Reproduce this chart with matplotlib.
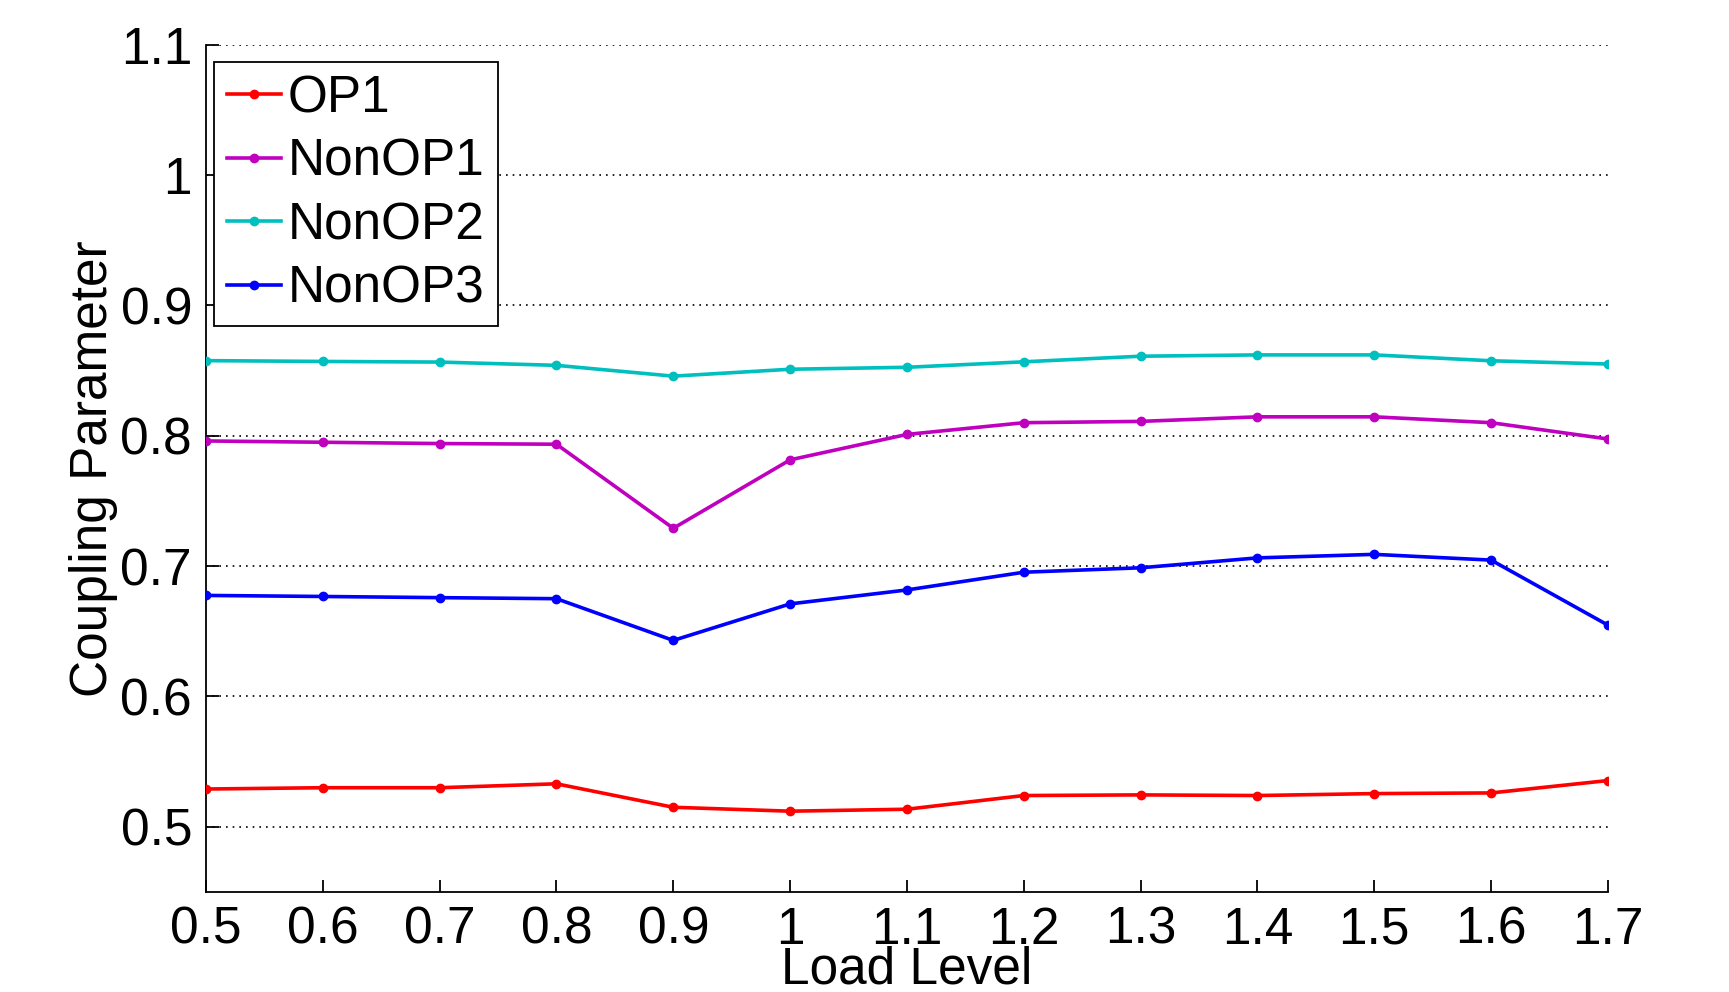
import numpy as np
import matplotlib
matplotlib.use("Agg")
import matplotlib.pyplot as plt

plt.rcParams['font.family'] = ['Liberation Sans', 'DejaVu Sans']

# load levels
load = [0.5, 0.6, 0.7, 0.8, 0.9, 1.0, 1.1, 1.2, 1.3, 1.4, 1.5, 1.6, 1.7]
xlabels = ['0.5', '0.6', '0.7', '0.8', '0.9', '1', '1.1', '1.2', '1.3', '1.4', '1.5', '1.6', '1.7']

# coupling parameter per operating point
op1 = [0.529, 0.530, 0.530, 0.533, 0.515, 0.512, 0.5135, 0.524, 0.5245, 0.524, 0.5255, 0.526, 0.5355]
nonop1 = [0.796, 0.795, 0.794, 0.7935, 0.729, 0.7815, 0.801, 0.810, 0.811, 0.8145, 0.8145, 0.810, 0.7975]
nonop2 = [0.8576, 0.857, 0.8565, 0.854, 0.8457, 0.851, 0.8525, 0.8567, 0.861, 0.862, 0.862, 0.8575, 0.855]
nonop3 = [0.6775, 0.6767, 0.6758, 0.675, 0.643, 0.671, 0.6817, 0.6953, 0.6987, 0.7063, 0.709, 0.7046, 0.6547]

yticks = [0.5, 0.6, 0.7, 0.8, 0.9, 1.0, 1.1]
ylabels = ['0.5', '0.6', '0.7', '0.8', '0.9', '1', '1.1']

fig = plt.figure(figsize=(17.29, 9.92), dpi=100)
ax = fig.add_axes([0.1191, 0.1008, 0.8109, 0.8542])

series = [(op1, 'OP1', '#ff0000'),
          (nonop1, 'NonOP1', '#bf00bf'),
          (nonop2, 'NonOP2', '#00bfbf'),
          (nonop3, 'NonOP3', '#0000ff')]
for vals, name, col in series:
    ax.plot(load, vals, '-', marker='o', color=col, lw=2.6, ms=6, label=name, zorder=3)

ax.set_xlim(0.5, 1.7)
ax.set_ylim(0.45, 1.1)
ax.set_xticks(load)
ax.set_xticklabels(xlabels)
ax.set_yticks(yticks)
ax.set_yticklabels(ylabels)

# dotted horizontal grid
for y in yticks:
    ax.axhline(y, color='black', ls=(0, (1, 3)), lw=1.2, zorder=1)

ax.spines['top'].set_visible(False)
ax.spines['right'].set_visible(False)
ax.spines['left'].set_linewidth(1.3)
ax.spines['bottom'].set_linewidth(1.3)
ax.tick_params(direction='in', length=9, width=1.3, labelsize=37)
ax.tick_params(axis='x', pad=10)
ax.tick_params(axis='y', pad=10)

ax.set_xlabel('Load Level', fontsize=37, labelpad=-7)
ax.set_ylabel('Coupling Parameter', fontsize=37, labelpad=2)

leg = ax.legend(loc='upper left', bbox_to_anchor=(0.0057, 0.98), fontsize=37,
                frameon=True, fancybox=False, edgecolor='black', framealpha=1,
                handlelength=1.05, handletextpad=0.14, borderpad=0.25,
                labelspacing=0.28, borderaxespad=0.0)
leg.get_frame().set_linewidth(1.3)

fig.savefig('out.png', dpi=100)
